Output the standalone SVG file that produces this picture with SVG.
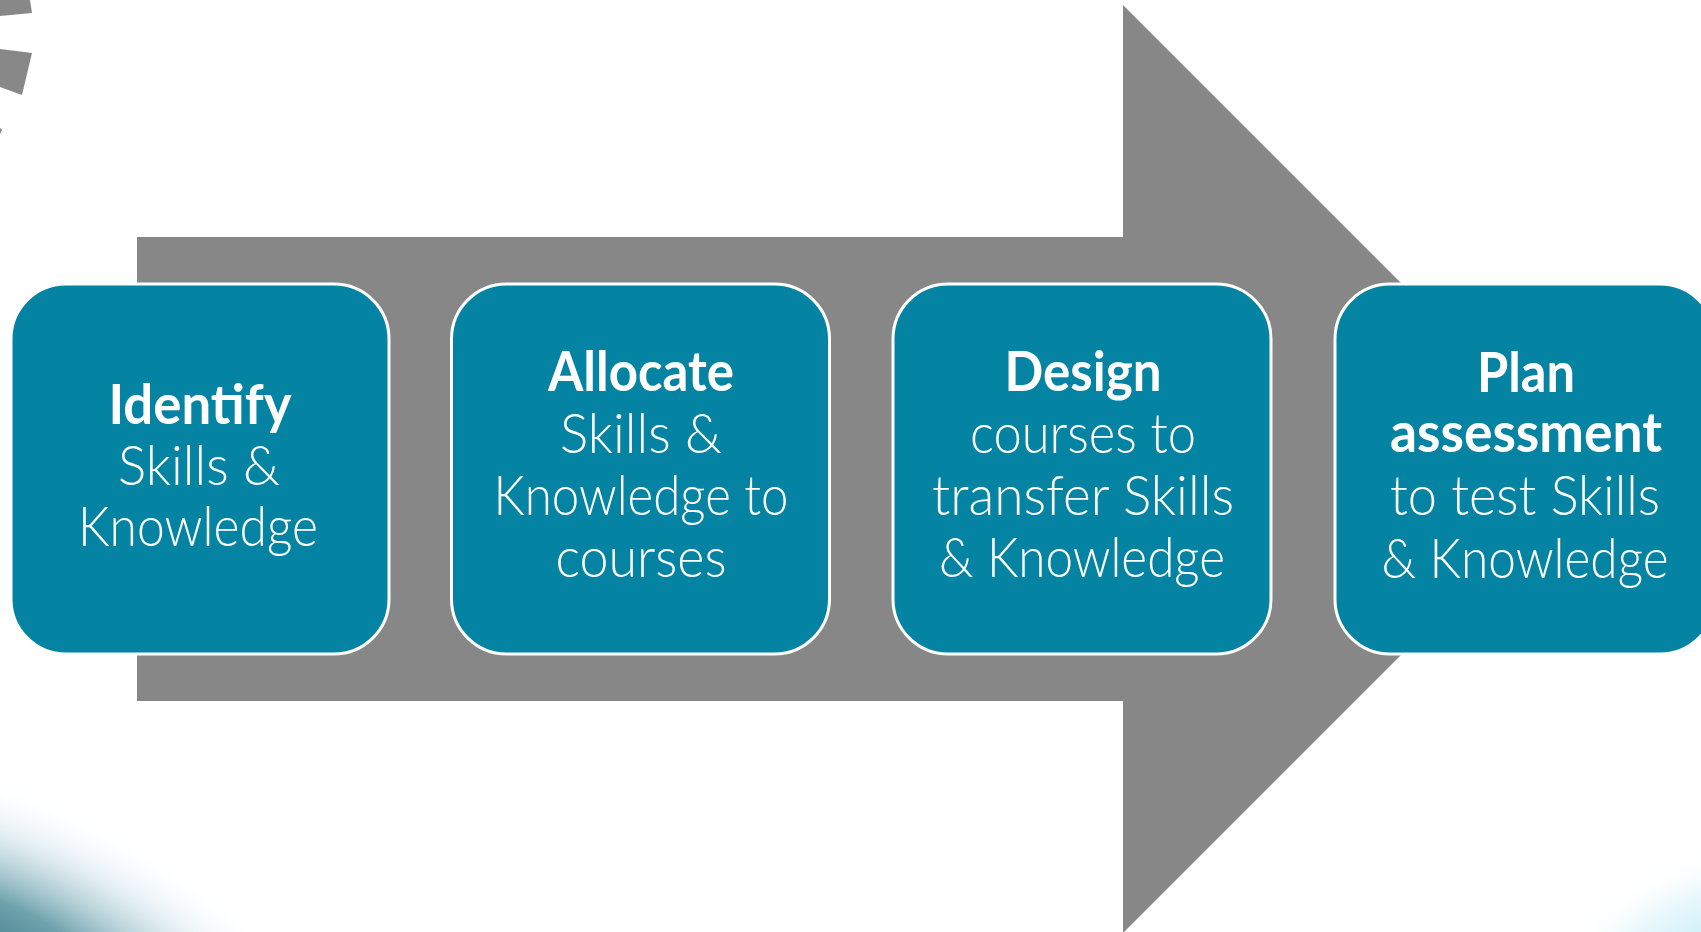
<svg xmlns="http://www.w3.org/2000/svg" width="1701" height="932" viewBox="0 0 1701 932">
  <defs>
    <style>
      .box { fill: #0583A3; stroke: #ffffff; stroke-width: 3; }
      .bold { font-family: "Lato", "Open Sans", "Liberation Sans", sans-serif; font-weight: 700; font-size: 55px; fill: #ffffff; text-anchor: middle; }
      .light { font-family: "Lato", "Open Sans", "Liberation Sans", sans-serif; font-weight: 300; font-size: 55px; fill: #ffffff; text-anchor: middle; }
    </style>
    <radialGradient id="blTeal" cx="0.5" cy="0.5" r="0.5">
      <stop offset="0" stop-color="#2a6c7a" stop-opacity="1"/>
      <stop offset="0.4" stop-color="#5f98a4" stop-opacity="0.9"/>
      <stop offset="0.75" stop-color="#cfe2ea" stop-opacity="0.5"/>
      <stop offset="1" stop-color="#ffffff" stop-opacity="0"/>
    </radialGradient>
    <radialGradient id="brCyan" cx="0.5" cy="0.5" r="0.5">
      <stop offset="0" stop-color="#bfeaf6" stop-opacity="1"/>
      <stop offset="0.6" stop-color="#e0f5fb" stop-opacity="0.7"/>
      <stop offset="1" stop-color="#ffffff" stop-opacity="0"/>
    </radialGradient>
  </defs>

  <rect x="0" y="0" width="1701" height="932" fill="#ffffff"/>

  <!-- background decorations -->
  <g id="decor">
    <polygon points="0,0 30,0 32,13 0,16" fill="#888888"/>
    <polygon points="0,49 32,53 22,95 0,87" fill="#888888"/>
    <polygon points="0,128 2,130 0,134" fill="#888888"/>
    <ellipse cx="-20" cy="975" rx="420" ry="190" transform="rotate(24 -20 975)" fill="url(#blTeal)"/>
    <ellipse cx="1720" cy="950" rx="180" ry="100" transform="rotate(-20 1720 950)" fill="url(#brCyan)"/>
  </g>

  <!-- connector: big process arrow -->
  <g id="connectors">
    <polygon points="137,237 1123,237 1123,5 1587,469 1123,933 1123,701 137,701" fill="#878787"/>
  </g>

  <g id="node-identify">
    <rect class="box" x="11" y="284" width="378" height="370" rx="55" ry="55"/>
    <text class="bold" x="200" y="424" textLength="183" lengthAdjust="spacingAndGlyphs">Identify</text>
    <text class="light" x="199" y="485" textLength="162" lengthAdjust="spacingAndGlyphs">Skills &amp;</text>
    <text class="light" x="198" y="546" textLength="240" lengthAdjust="spacingAndGlyphs">Knowledge</text>
  </g>

  <g id="node-allocate">
    <rect class="box" x="451.5" y="284" width="378" height="370" rx="55" ry="55"/>
    <text class="bold" x="641" y="391" textLength="186" lengthAdjust="spacingAndGlyphs">Allocate</text>
    <text class="light" x="641" y="453" textLength="162" lengthAdjust="spacingAndGlyphs">Skills &amp;</text>
    <text class="light" x="641" y="515" textLength="295" lengthAdjust="spacingAndGlyphs">Knowledge to</text>
    <text class="light" x="641" y="577" textLength="171" lengthAdjust="spacingAndGlyphs">courses</text>
  </g>

  <g id="node-design">
    <rect class="box" x="893" y="284" width="378" height="370" rx="55" ry="55"/>
    <text class="bold" x="1083" y="391" textLength="157" lengthAdjust="spacingAndGlyphs">Design</text>
    <text class="light" x="1083" y="453" textLength="226" lengthAdjust="spacingAndGlyphs">courses to</text>
    <text class="light" x="1083" y="515" textLength="302" lengthAdjust="spacingAndGlyphs">transfer Skills</text>
    <text class="light" x="1082" y="577" textLength="286" lengthAdjust="spacingAndGlyphs">&amp; Knowledge</text>
  </g>

  <g id="node-plan">
    <rect class="box" x="1335" y="284" width="380" height="370" rx="55" ry="55"/>
    <text class="bold" x="1526" y="392" textLength="98" lengthAdjust="spacingAndGlyphs">Plan</text>
    <text class="bold" x="1526" y="452" textLength="272" lengthAdjust="spacingAndGlyphs">assessment</text>
    <text class="light" x="1525" y="515" textLength="270" lengthAdjust="spacingAndGlyphs">to test Skills</text>
    <text class="light" x="1525" y="578" textLength="287" lengthAdjust="spacingAndGlyphs">&amp; Knowledge</text>
  </g>
</svg>
